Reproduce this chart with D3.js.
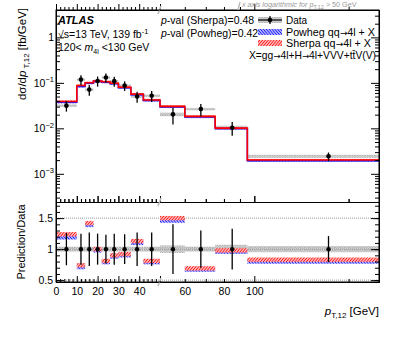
<!DOCTYPE html>
<html>
<head>
<meta charset="utf-8">
<script src="https://cdn.jsdelivr.net/npm/d3@7"></script>
<style>
  body { margin: 0; background: #fff; }
  svg { font-family: "Liberation Sans", Arial, Helvetica, sans-serif; }
  .axis path { stroke: #000; }
  .axis line { stroke: #000; }
</style>
</head>
<body>
<svg id="chart"></svg>
<script>
// bins in p_T,12 [GeV]
const binEdges = [0, 10, 14, 18, 22, 26, 30, 36, 42, 50, 60, 75, 95, 250];
const dataCenters = [5, 12, 16, 20, 24, 28, 33, 39, 46, 55, 67.5, 85, 172.5];
// measured dsigma/dpT [fb/GeV]
const dataValues = [0.0315, 0.118, 0.071, 0.11, 0.131, 0.109, 0.087, 0.05, 0.052, 0.0203, 0.0265, 0.0103, 0.00243];
const dataRelErr = [0.26, 0.25, 0.27, 0.25, 0.23, 0.25, 0.24, 0.27, 0.27, 0.4, 0.3, 0.33, 0.21];
const dataSystRel = [0.04, 0.04, 0.04, 0.04, 0.04, 0.04, 0.04, 0.04, 0.04, 0.06, 0.04, 0.07, 0.05];
// prediction / data
const sherpaRatio = [1.24, 0.74, 1.42, 1.0, 0.81, 0.9, 0.92, 1.13, 0.81, 1.5, 0.69, 0.98, 0.83];
const powhegRatio = [1.19, 0.71, 1.39, 0.98, 0.79, 0.88, 0.9, 1.1, 0.79, 1.46, 0.67, 0.96, 0.8];
const predRelBand = 0.035;

const yMainTicks = [1, 0.1, 0.01, 0.001];
const xLinTicks = [0, 10, 20, 30, 40];
const xLogTicks = [60, 80, 100];
const ratioTicks = [0.5, 1, 1.5];

const W = 399, H = 337;
const pL = 56, pR = 379, pT = 10, pM = 202, pB = 282, brk = 160;

const svg = d3.select('#chart').attr('width', W).attr('height', H);

const xLin = d3.scaleLinear().domain([0, 50]).range([pL, brk]);
const xLog = d3.scaleLog().domain([50, 250]).range([brk, pR]);
const x = v => v <= 50 ? xLin(v) : xLog(v);

const yMain = d3.scaleLog().domain([2.4e-4, 4]).range([pM, pT]);
const yRatio = d3.scaleLinear().domain([0.47, 1.76]).range([pB, pM]);

// hatch patterns
const defs = svg.append('defs');
function hatch(id, color, bg, angle, width, size) {
  const p = defs.append('pattern')
    .attr('id', id)
    .attr('patternUnits', 'userSpaceOnUse')
    .attr('width', size).attr('height', size)
    .attr('patternTransform', `rotate(${angle})`);
  p.append('rect').attr('width', size).attr('height', size).attr('fill', bg);
  p.append('line').attr('x1', 0).attr('y1', 0).attr('x2', 0).attr('y2', size)
    .attr('stroke', color).attr('stroke-width', width);
}
hatch('hRed', '#ff0000', '#ffb0b0', 40, 1.3, 2.2);
hatch('hBlue', '#0000ff', '#b0b0ff', -40, 1.3, 2.2);
const pg = defs.append('pattern').attr('id', 'hGrey').attr('patternUnits', 'userSpaceOnUse')
  .attr('width', 2.5).attr('height', 2.5);
pg.append('rect').attr('width', 2.5).attr('height', 2.5).attr('fill', '#e2e2e2');
pg.append('path').attr('d', 'M0,0L2.5,2.5M2.5,0L0,2.5').attr('stroke', '#a8a8a8').attr('stroke-width', 0.7);

const bins = d3.range(dataValues.length).map(i => ({
  lo: binEdges[i], hi: binEdges[i + 1], c: dataCenters[i],
  v: dataValues[i], err: dataRelErr[i], syst: dataSystRel[i],
  rs: sherpaRatio[i], rp: powhegRatio[i],
  sherpa: dataValues[i] * sherpaRatio[i], powheg: dataValues[i] * powhegRatio[i]
}));

// ---------------- main panel ----------------
const main = svg.append('g');

main.selectAll('rect.syst').data(bins).enter().append('rect')
  .attr('x', d => x(d.lo)).attr('width', d => x(d.hi) - x(d.lo))
  .attr('y', d => yMain(d.v * (1 + d.syst * 1.5)))
  .attr('height', d => yMain(d.v * (1 - d.syst * 1.5)) - yMain(d.v * (1 + d.syst * 1.5)))
  .attr('fill', 'url(#hGrey)');

function predBand(key, fill) {
  main.selectAll('rect.b' + key).data(bins).enter().append('rect')
    .attr('x', d => x(d.lo)).attr('width', d => x(d.hi) - x(d.lo))
    .attr('y', d => yMain(d[key] * (1 + predRelBand * 1.6)))
    .attr('height', d => yMain(d[key] * (1 - predRelBand * 1.6)) - yMain(d[key] * (1 + predRelBand * 1.6)))
    .attr('fill', fill);
}
function predLine(key, color) {
  const pts = bins.map(d => [x(d.lo), yMain(d[key])]);
  pts.push([x(250), yMain(bins[bins.length - 1][key])]);
  main.append('path')
    .attr('d', d3.line().curve(d3.curveStepAfter)(pts))
    .attr('fill', 'none').attr('stroke', color).attr('stroke-width', 1.6);
}
predBand('powheg', 'url(#hBlue)');
predBand('sherpa', 'url(#hRed)');
predLine('powheg', '#1a1aff');
predLine('sherpa', '#ff0000');

main.selectAll('line.err').data(bins).enter().append('line')
  .attr('x1', d => x(d.c)).attr('x2', d => x(d.c))
  .attr('y1', d => yMain(d.v * (1 + d.err))).attr('y2', d => yMain(d.v * (1 - d.err)))
  .attr('stroke', '#000').attr('stroke-width', 1.3);
main.selectAll('circle').data(bins).enter().append('circle')
  .attr('cx', d => x(d.c)).attr('cy', d => yMain(d.v)).attr('r', 2.3).attr('fill', '#000');

// ---------------- ratio panel ----------------
const ratio = svg.append('g');

ratio.selectAll('rect.syst').data(bins).enter().append('rect')
  .attr('x', d => x(d.lo)).attr('width', d => x(d.hi) - x(d.lo))
  .attr('y', d => yRatio(1 + d.syst)).attr('height', d => yRatio(1 - d.syst) - yRatio(1 + d.syst))
  .attr('fill', 'url(#hGrey)');

ratio.selectAll('line.grid').data(ratioTicks).enter().append('line')
  .attr('x1', pL).attr('x2', pR)
  .attr('y1', d => yRatio(d)).attr('y2', d => yRatio(d))
  .attr('stroke', '#999').attr('stroke-width', 1).attr('stroke-dasharray', '1,1');

function ratioBoxes(key, fill) {
  ratio.selectAll('rect.r' + key).data(bins).enter().append('rect')
    .attr('x', d => x(d.lo)).attr('width', d => x(d.hi) - x(d.lo))
    .attr('y', d => yRatio(d[key] + predRelBand)).attr('height', d => yRatio(d[key] - predRelBand) - yRatio(d[key] + predRelBand))
    .attr('fill', fill);
}
ratioBoxes('rp', 'url(#hBlue)');
ratioBoxes('rs', 'url(#hRed)');

ratio.selectAll('line.err').data(bins).enter().append('line')
  .attr('x1', d => x(d.c)).attr('x2', d => x(d.c))
  .attr('y1', d => yRatio(1 + d.err)).attr('y2', d => yRatio(1 - d.err))
  .attr('stroke', '#000').attr('stroke-width', 1.3);
ratio.selectAll('circle').data(bins).enter().append('circle')
  .attr('cx', d => x(d.c)).attr('cy', yRatio(1)).attr('r', 2.2).attr('fill', '#000');

// ---------------- axes ----------------
const xMinorLin = d3.range(0, 51, 2).filter(v => v % 10 !== 0);
const xMinorLog = [60, 70, 80, 90, 200];

function xAxes(y, dir, labels) {
  const mk = dir > 0 ? d3.axisBottom : d3.axisTop;
  const g = svg.append('g').attr('class', 'axis').attr('transform', `translate(0,${y})`);
  g.append('g').call(mk(xLin).tickValues(xLinTicks.concat([50])).tickSize(-6 * dir).tickSizeOuter(0)
      .tickFormat(d => labels && d !== 50 ? d : ''));
  g.append('g').call(mk(xLin).tickValues(xMinorLin).tickSize(-3 * dir).tickSizeOuter(0).tickFormat(''));
  g.append('g').call(mk(xLog).tickValues([100]).tickSize(-6 * dir).tickSizeOuter(0)
      .tickFormat(d => labels ? d : ''));
  g.append('g').call(mk(xLog).tickValues(xMinorLog).tickSize(-3 * dir).tickSizeOuter(0)
      .tickFormat(d => labels && xLogTicks.includes(d) ? d : ''));
  g.selectAll('text').attr('font-size', 10.5).attr('fill', '#000').attr('y', 6).attr('dy', '0.71em');
  return g;
}
xAxes(pT, -1, false);
xAxes(pM, 1, false);
xAxes(pM, -1, false);
xAxes(pB, 1, true);

// main y axis (log)
const yMinor = [];
[1e-4, 1e-3, 1e-2, 1e-1, 1].forEach(dec => d3.range(2, 10).forEach(k => {
  const v = dec * k; if (v > 2.4e-4 && v < 4) yMinor.push(v);
}));
[[pL, d3.axisLeft], [pR, d3.axisRight]].forEach(([px, ax]) => {
  const g = svg.append('g').attr('class', 'axis').attr('transform', `translate(${px},0)`);
  g.append('g').call(ax(yMain).tickValues(yMainTicks).tickSize(-8).tickSizeOuter(0).tickFormat(''));
  g.append('g').call(ax(yMain).tickValues(yMinor).tickSize(-4).tickSizeOuter(0).tickFormat(''));
  const r = svg.append('g').attr('class', 'axis').attr('transform', `translate(${px},0)`);
  r.append('g').call(ax(yRatio).tickValues(ratioTicks).tickSize(-8).tickSizeOuter(0).tickFormat(''));
  r.append('g').call(ax(yRatio).tickValues(d3.range(0.5, 1.75, 0.1)).tickSize(-4).tickSizeOuter(0).tickFormat(''));
});

// tick labels on the left
const yLab = svg.append('g').attr('font-size', 10.5).attr('text-anchor', 'end');
yMainTicks.forEach(v => {
  const t = yLab.append('text').attr('x', pL - 2).attr('y', yMain(v) + 4);
  if (v === 1) { t.text('1'); return; }
  t.append('tspan').text('10');
  t.append('tspan').attr('dy', -4.5).attr('font-size', 7.5).text('\u2212' + Math.round(-Math.log10(v)));
});
ratioTicks.forEach(v => {
  yLab.append('text').attr('x', pL - 3).attr('y', yRatio(v) + 4).text(v);
});

// axis breaks
[pT, pM, pB].forEach(y => {
  svg.append('path').attr('d', `M${brk - 2},${y + 4}L${brk + 1},${y - 4}`)
    .attr('stroke', '#bbb').attr('stroke-width', 1.6);
});

// frame
svg.append('rect').attr('x', pL).attr('y', pT).attr('width', pR - pL).attr('height', pB - pT)
  .attr('fill', 'none').attr('stroke', '#000').attr('stroke-width', 1);

// ---------------- texts ----------------
const txt = svg.append('g').attr('font-size', 10.5).attr('fill', '#000');

txt.append('text').attr('x', 58).attr('y', 24).attr('font-weight', 'bold').attr('font-style', 'italic')
  .attr('font-size', 11).text('ATLAS');
const s1 = txt.append('text').attr('x', 58).attr('y', 38);
s1.append('tspan').text('\u221As=13 TeV, 139 fb');
s1.append('tspan').attr('dy', -4).attr('font-size', 7.5).text('-1');
const s2 = txt.append('text').attr('x', 58).attr('y', 51);
s2.append('tspan').text('120< ');
s2.append('tspan').attr('font-style', 'italic').text('m');
s2.append('tspan').attr('dy', 3).attr('font-size', 7).text('4l');
s2.append('tspan').attr('dy', -3).text(' <130 GeV');

const pvals = [['Sherpa', '0.48', 24], ['Powheg', '0.42', 37]];
pvals.forEach(([n, v, y]) => {
  const t = txt.append('text').attr('x', 161).attr('y', y);
  t.append('tspan').attr('font-style', 'italic').text('p');
  t.append('tspan').text(`-val (${n})=${v}`);
});

// legend
const lx = 258, lw = 24;
const leg = svg.append('g');
leg.append('rect').attr('x', lx).attr('y', 17).attr('width', lw).attr('height', 6).attr('fill', 'url(#hGrey)');
leg.append('line').attr('x1', lx).attr('x2', lx + lw).attr('y1', 20).attr('y2', 20).attr('stroke', '#000').attr('stroke-width', 1.2);
leg.append('line').attr('x1', lx + lw / 2).attr('x2', lx + lw / 2).attr('y1', 16).attr('y2', 24).attr('stroke', '#000').attr('stroke-width', 1.2);
leg.append('circle').attr('cx', lx + lw / 2).attr('cy', 20).attr('r', 2.3).attr('fill', '#000');
leg.append('rect').attr('x', lx).attr('y', 29).attr('width', lw).attr('height', 6).attr('fill', 'url(#hBlue)');
leg.append('rect').attr('x', lx).attr('y', 40).attr('width', lw).attr('height', 6).attr('fill', 'url(#hRed)');

// text with arrows drawn from a font that has a full-size arrow glyph
function arrowText(g, str, xx, yy, len) {
  const t = g.append('text').attr('x', xx).attr('y', yy);
  if (len) t.attr('textLength', len).attr('lengthAdjust', 'spacingAndGlyphs');
  str.split('\u2192').forEach((part, i) => {
    if (i > 0) t.append('tspan').attr('font-family', 'DejaVu Sans').attr('font-size', 8.5).text('\u2192');
    t.append('tspan').text(part);
  });
  return t;
}
const legTxt = txt.append('g').attr('font-size', 10);
legTxt.append('text').attr('x', 286).attr('y', 24).text('Data');
arrowText(legTxt, 'Powheg qq\u21924l + X', 286, 36, 89);
arrowText(legTxt, 'Sherpa qq\u21924l + X', 286, 47, 85);
arrowText(legTxt, 'X=gg\u21924l+H\u21924l+VVV+tt\u0304V(V)', 376, 59, 0)
  .attr('text-anchor', 'end').attr('font-size', 10.3);

// top note
const note = svg.append('text').attr('x', 242).attr('y', 7).attr('font-size', 7.2).attr('fill', '#999');
note.append('tspan').attr('font-style', 'italic').text('x axis logarithmic for ');
note.append('tspan').attr('font-style', 'italic').text('p');
note.append('tspan').attr('dy', 2).attr('font-size', 5.5).text('T,12');
note.append('tspan').attr('dy', -2).text(' > 50 GeV');
svg.append('path').attr('d', 'M238,10L240,2').attr('stroke', '#bbb').attr('stroke-width', 1.4);

// axis titles
const yt = svg.append('text').attr('transform', 'translate(26,8) rotate(-90)').attr('text-anchor', 'end').attr('font-size', 11.5);
yt.append('tspan').text('d\u03C3/d');
yt.append('tspan').attr('font-style', 'italic').text('p');
yt.append('tspan').attr('dy', 3).attr('font-size', 8).text(' T,12');
yt.append('tspan').attr('dy', -3).text(' [fb/GeV]');

svg.append('text').attr('transform', `translate(25,${(pM + pB) / 2}) rotate(-90)`)
  .attr('text-anchor', 'middle').attr('font-size', 11).text('Prediction/Data');

const xt = svg.append('text').attr('x', pR).attr('y', 315).attr('text-anchor', 'end').attr('font-size', 11.5);
xt.append('tspan').attr('font-style', 'italic').text('p');
xt.append('tspan').attr('dy', 3).attr('font-size', 8).text('T,12');
xt.append('tspan').attr('dy', -3).text(' [GeV]');
</script>
</body>
</html>
